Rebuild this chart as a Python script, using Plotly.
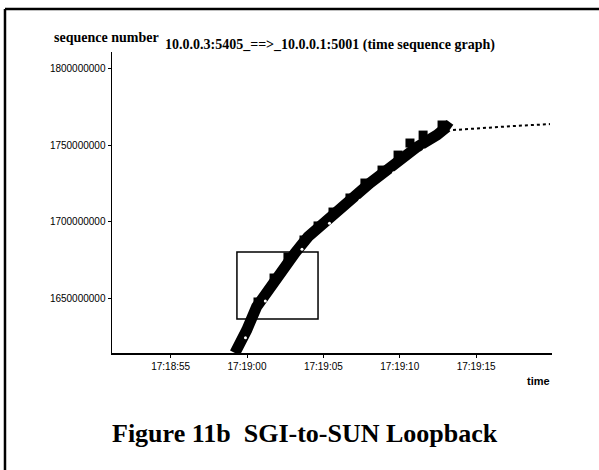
import pandas as pd
import plotly.graph_objects as go

BASE = pd.Timestamp("2000-01-01 17:18:55")

# band of data segments (seconds after 17:18:55, sequence number in millions)
band_t = [4.21, 4.32, 4.98, 5.63, 6.50, 7.37, 8.14, 8.99, 9.97, 10.89, 11.94,
          13.05, 14.16, 15.21, 16.13, 17.44, 18.09, 18.30]
band_v = [1614.0, 1616.0, 1629.0, 1644.3, 1657.4, 1668.3, 1679.5, 1690.0, 1699.1,
          1707.6, 1716.1, 1725.3, 1733.8, 1742.3, 1748.9, 1756.7, 1762.0, 1760.5]

# sawtooth teeth on the upper edge of the band
teeth_t = [5.72, 6.77, 7.68, 8.73, 9.65, 10.63, 11.74, 12.72, 13.84, 14.89,
           15.67, 16.53, 17.77]
teeth_v = [1647.4, 1663.1, 1676.8, 1688.0, 1697.2, 1706.3, 1715.5, 1725.3,
           1733.8, 1743.6, 1751.5, 1756.7, 1763.3]

# small gaps (white specks) along the lower edge of the band
speck_t = [4.90, 6.20, 8.60, 10.40, 12.40, 14.60, 16.60]
speck_v = [1624.0, 1648.0, 1682.0, 1699.0, 1714.0, 1732.0, 1747.0]

# dotted tail
tail_t = [18.49, 20.26, 22.42, 24.84]
tail_v = [1760.0, 1761.3, 1762.6, 1763.9]

# zoom rectangle
rect_t = [4.34, 9.65]
rect_v = [1636.2, 1680.1]

y_ticks = [1650000000, 1700000000, 1750000000, 1800000000]
x_tick_s = [0, 5, 10, 15, 20]
x_range_s = [-3.84, 24.97]
y_range = [1614.0e6, 1811.1e6]


def ts(sec_list):
    return [BASE + pd.Timedelta(seconds=s) for s in sec_list]


def mv(vals):
    return [v * 1e6 for v in vals]


fig = go.Figure()
fig.add_trace(go.Scatter(x=ts(band_t), y=mv(band_v), mode="lines",
                         line=dict(color="black", width=11), hoverinfo="skip"))
fig.add_trace(go.Scatter(x=ts(teeth_t), y=mv(teeth_v), mode="markers",
                         marker=dict(color="black", size=9, symbol="square"),
                         hoverinfo="skip"))
fig.add_trace(go.Scatter(x=ts(speck_t), y=mv(speck_v), mode="markers",
                         marker=dict(color="white", size=3, symbol="circle"),
                         hoverinfo="skip"))
fig.add_trace(go.Scatter(x=ts(tail_t), y=mv(tail_v), mode="lines",
                         line=dict(color="black", width=2, dash="dot"),
                         hoverinfo="skip"))

fig.add_shape(type="rect", xref="x", yref="y",
              x0=ts(rect_t)[0], x1=ts(rect_t)[1],
              y0=rect_v[0] * 1e6, y1=rect_v[1] * 1e6,
              line=dict(color="black", width=1.5))

# outer frame (left and top edges)
fig.add_shape(type="line", xref="paper", yref="paper",
              x0=-0.2432, x1=-0.2432, y0=1.1429, y1=-0.40,
              line=dict(color="black", width=2.5))
fig.add_shape(type="line", xref="paper", yref="paper",
              x0=-0.2432, x1=1.12, y0=1.1429, y1=1.1429,
              line=dict(color="black", width=2.5))

fig.update_xaxes(type="date", range=ts(x_range_s), tickvals=ts(x_tick_s),
                 tickformat="%H:%M:%S", showgrid=False, zeroline=False,
                 showline=True, linecolor="black", linewidth=1.5,
                 ticks="outside", ticklen=3, tickcolor="black",
                 tickfont=dict(family="Liberation Sans", size=10, color="black"))
fig.update_yaxes(range=y_range, tickvals=y_ticks, tickformat="d",
                 showgrid=False, zeroline=False,
                 showline=True, linecolor="black", linewidth=1.5,
                 ticks="outside", ticklen=3, tickcolor="black",
                 tickfont=dict(family="Liberation Sans", size=10, color="black"))

fig.add_annotation(text="<b>sequence number</b>", xref="paper", yref="paper",
                   x=(52 - 112) / 440, y=(353 - 38) / 301, xanchor="left",
                   yanchor="middle", showarrow=False,
                   font=dict(family="Liberation Serif", size=14, color="black"))
fig.add_annotation(text="<b>10.0.0.3:5405_==>_10.0.0.1:5001 (time sequence graph)</b>",
                   xref="paper", yref="paper",
                   x=(163 - 112) / 440, y=(353 - 45) / 301, xanchor="left",
                   yanchor="middle", showarrow=False,
                   font=dict(family="Liberation Serif", size=14, color="black"))
fig.add_annotation(text="<b>time</b>", xref="paper", yref="paper",
                   x=1.0, y=(353 - 381) / 301, xanchor="right", yanchor="middle",
                   showarrow=False,
                   font=dict(family="Liberation Sans", size=11, color="black"))
fig.add_annotation(text="<b>Figure 11b  SGI-to-SUN Loopback</b>", xref="paper",
                   yref="paper", x=(305 - 112) / 440, y=(353 - 433) / 301,
                   xanchor="center", yanchor="middle", showarrow=False,
                   font=dict(family="Liberation Serif", size=26, color="black"))

fig.update_layout(width=599, height=470, showlegend=False,
                  paper_bgcolor="white", plot_bgcolor="white",
                  margin=dict(l=112, r=47, t=52, b=117))

fig.write_html("out.html",
               config={"displayModeBar": False, "staticPlot": True},
               post_script="document.body.style.margin='0';"
                           "document.body.style.overflow='hidden';")
